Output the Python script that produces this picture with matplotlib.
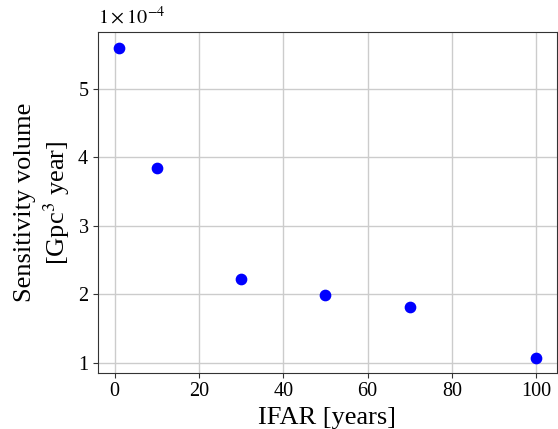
import matplotlib
matplotlib.use("Agg")
import matplotlib.pyplot as plt

plt.rcParams['font.family'] = ['Liberation Serif', 'DejaVu Serif']
plt.rcParams['mathtext.fontset'] = 'stix'

ifar = [1, 10, 30, 50, 70, 100]
volume = [5.60e-4, 3.85e-4, 2.23e-4, 1.985e-4, 1.81e-4, 1.08e-4]

fig = plt.figure(figsize=(5.58, 4.29), dpi=100)
ax = fig.add_axes([98/558, 1 - 373/429, 459/558, 341/429])

ax.scatter(ifar, volume, s=55, color='blue', zorder=3)

ax.ticklabel_format(axis='y', style='sci', scilimits=(0, 0), useMathText=True)
ax.grid(True, color='#cccccc', linewidth=1.0)
ax.set_axisbelow(True)
for sp in ax.spines.values():
    sp.set_color('#333333')
ax.tick_params(labelsize=14.5, colors='#333333', labelcolor='black', length=3.5, pad=3)

ax.set_xlabel("IFAR [years]", fontsize=19)
ax.set_ylabel("Sensitivity volume\n[Gpc$^3$ year]", fontsize=19)

# old-style offset label "1x10^-4"
ax.yaxis.get_offset_text().set_visible(False)
ax.text(0.0, 1.01, r'$1\times10^{-4}$', transform=ax.transAxes,
        ha='left', va='bottom', fontsize=14.5)

fig.savefig("out.png", dpi=100)
